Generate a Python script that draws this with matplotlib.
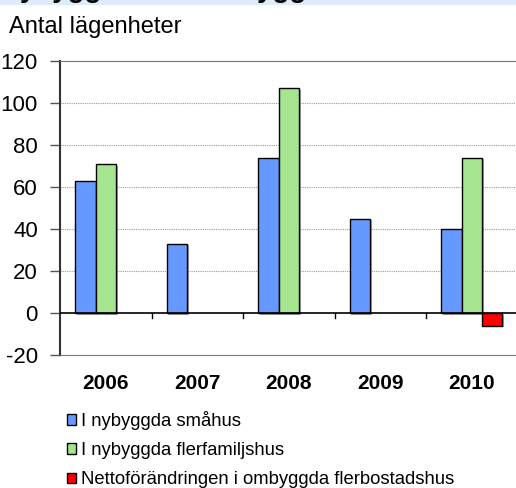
import matplotlib
matplotlib.use("Agg")
import matplotlib.pyplot as plt
import matplotlib.patheffects as pe
import numpy as np
from matplotlib.patches import Rectangle, Patch

plt.rcParams['font.family'] = ['Liberation Sans', 'DejaVu Sans']

years = ["2006", "2007", "2008", "2009", "2010"]
smahus = [63, 33, 74, 45, 40]
flerfamiljshus = [71, np.nan, 107, np.nan, 74]
ombyggda = [np.nan, np.nan, np.nan, np.nan, -6]
series_names = ["I nybyggda småhus", "I nybyggda flerfamiljshus",
                "Nettoförändringen i ombyggda flerbostadshus"]
colors = ["#6699FF", "#A6E58F", "#FF0000"]
yticks = [-20, 0, 20, 40, 60, 80, 100, 120]

W, H = 516, 488
fig = plt.figure(figsize=(W / 100, H / 100), dpi=100)

# top banner fragment
fig.patches.append(Rectangle((0, 1 - 5 / H), 1, 5 / H, transform=fig.transFigure,
                             facecolor="#DDEBFB", edgecolor="none", zorder=0))
fig.text(0.0, 1 + 3 / H, "Nybyggda och ombyggda", fontsize=20, fontweight="bold",
         va="baseline", ha="left", clip_on=False)

fig.text(9 / W, 1 - 27 / H, "Antal lägenheter", fontsize=17, va="center", ha="left")

ax = fig.add_axes([60 / W, 1 - 355 / H, 457.5 / W, (355 - 61) / H])

x = np.arange(len(years))
w = 0.224
shadow = [pe.SimplePatchShadow(offset=(1.2, -1.2), shadow_rgbFace="#808080", alpha=0.7), pe.Normal()]
for i, (vals, c) in enumerate(zip([smahus, flerfamiljshus, ombyggda], colors)):
    vals = np.asarray(vals, dtype=float)
    m = ~np.isnan(vals)
    bars = ax.bar(x[m] + (i - 1) * w, vals[m], width=w, color=c, edgecolor="black",
                  linewidth=1.0, zorder=3)
    for b in bars:
        b.set_path_effects(shadow)

ax.set_xlim(-0.5, 4.5)
ax.set_ylim(-20, 120)
ax.set_yticks(yticks)
ax.set_yticklabels([str(v) for v in yticks], fontsize=16)
ax.tick_params(axis="y", length=7, width=1, pad=9, color="#555555")
ax.set_xticks(x)
ax.set_xticklabels(years, fontsize=15, fontweight="bold")
ax.tick_params(axis="x", length=0, pad=14)

for v in yticks[2:-1]:
    ax.axhline(v, color="#999999", linewidth=0.8, linestyle=(0, (1, 1)), zorder=1)
ax.axhline(0, color="black", linewidth=1.2, zorder=4)
for b in np.arange(0.5, 4.5, 1.0):
    ax.plot([b, b], [0, -2.4], color="black", linewidth=1.0, zorder=4)

ax.spines["right"].set_visible(False)
ax.spines["top"].set_color("#777777")
ax.spines["bottom"].set_color("#777777")
ax.spines["left"].set_color("#333333")
ax.spines["left"].set_linewidth(1.5)

handles = [Patch(facecolor=c, edgecolor="black", linewidth=1.0) for c in colors]
fig.legend(handles, series_names, loc="upper left", bbox_to_anchor=(67 / W, 1 - 411 / H),
           frameon=False, fontsize=13.3, handlelength=0.5, handleheight=0.5,
           handletextpad=0.25, labelspacing=0.66, borderaxespad=0, borderpad=0)

fig.savefig("out.png", dpi=100)
